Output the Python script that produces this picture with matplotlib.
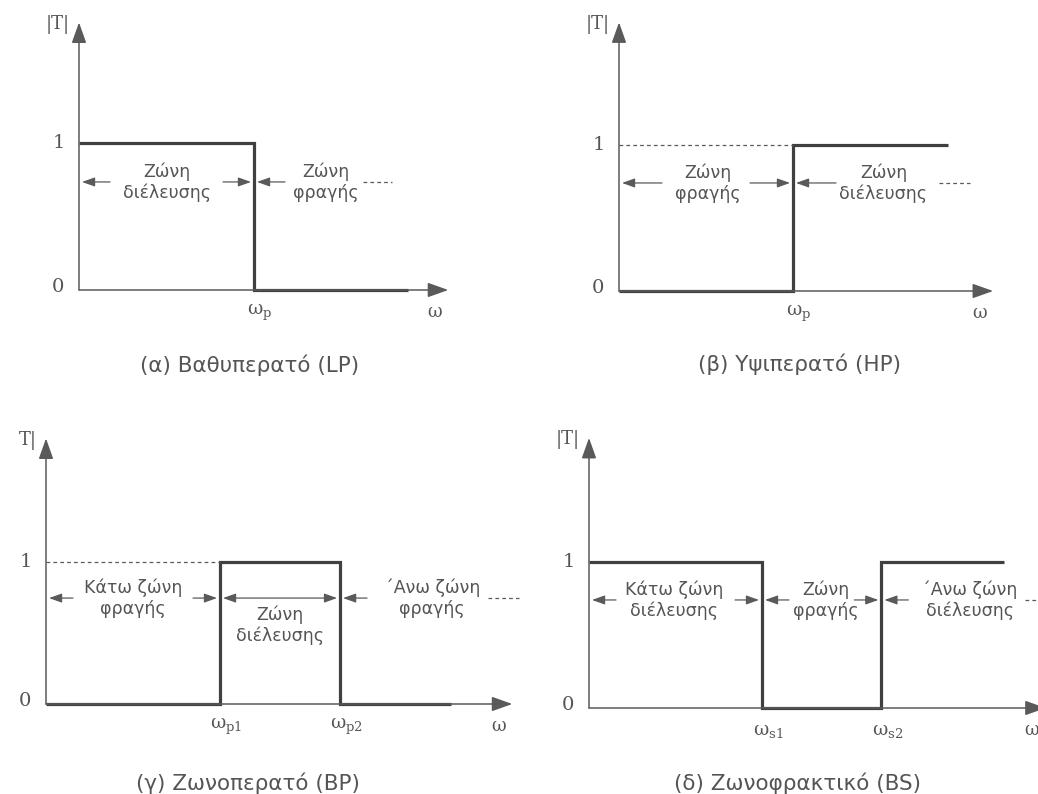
import matplotlib

matplotlib.use("Agg")
import matplotlib.pyplot as plt

W, H = 1038, 794

# Ideal magnitude responses: band edges (normalised frequency) and |T| per band
lp_edges = [0.0, 1.0, 1.88]
lp_gain = [1, 0]
hp_edges = [0.0, 1.0, 1.89]
hp_gain = [0, 1]
bp_edges = [0.0, 1.0, 1.69, 2.33]
bp_gain = [0, 1, 0]
bs_edges = [0.0, 1.0, 1.69, 2.40]
bs_gain = [1, 0, 1]

lp_cutoffs = [r"$\mathrm{ω_{p}}$"]
hp_cutoffs = [r"$\mathrm{ω_{p}}$"]
bp_cutoffs = [r"$\mathrm{ω_{p1}}$", r"$\mathrm{ω_{p2}}$"]
bs_cutoffs = [r"$\mathrm{ω_{s1}}$", r"$\mathrm{ω_{s2}}$"]

lp_bands = ["Ζώνη\nδιέλευσης", "Ζώνη\nφραγής"]
hp_bands = ["Ζώνη\nφραγής", "Ζώνη\nδιέλευσης"]
bp_bands = ["Κάτω ζώνη\nφραγής", "Ζώνη\nδιέλευσης", "΄Ανω ζώνη\nφραγής"]
bs_bands = ["Κάτω ζώνη\nδιέλευσης", "Ζώνη\nφραγής", "΄Ανω ζώνη\nδιέλευσης"]

titles = ["(α) Βαθυπερατό (LP)", "(β) Υψιπερατό (HP)",
          "(γ) Ζωνοπερατό (BP)", "(δ) Ζωνοφρακτικό (BS)"]
ylabels = ["|T|", "|T|", "T|", "|T|"]

LINE = "#404040"
AXIS = "#5a5a5a"
TEXT = "#555555"

plt.rcParams["font.family"] = ["DejaVu Sans"]
plt.rcParams["mathtext.fontset"] = "custom"
plt.rcParams["mathtext.rm"] = "DejaVu Serif"

fig = plt.figure(figsize=(W / 100, H / 100), dpi=100)
fig.patch.set_facecolor("white")


def arrow(ax, x_from, x_to, y, style="-|>"):
    ax.annotate("", xy=(x_to, y), xytext=(x_from, y), annotation_clip=False,
                arrowprops=dict(arrowstyle=f"{style},head_length=0.7,head_width=0.25",
                                color=AXIS, lw=0.9, shrinkA=0, shrinkB=0,
                                mutation_scale=11))


def panel(edges, gain, cutoffs, bands, title, ylab, lay):
    x0, y0, sx, sy = lay["origin"]
    xmax, ymax = lay["lims"]
    ax = fig.add_axes([x0 / W, 1 - y0 / H, xmax * sx / W, ymax * sy / H])
    ax.set_xlim(0, xmax)
    ax.set_ylim(0, ymax)
    ax.axis("off")
    px = 1.0 / sx

    # coordinate axes with arrow heads
    for tip in [(xmax, 0), (0, ymax)]:
        ax.annotate("", xy=tip, xytext=(0, 0), annotation_clip=False,
                    arrowprops=dict(arrowstyle="-|>,head_length=0.9,head_width=0.32",
                                    color=AXIS, lw=1.1, shrinkA=0, shrinkB=0,
                                    mutation_scale=14))

    # the response itself
    ax.stairs(gain, edges, baseline=None, color=LINE, lw=2.3, clip_on=False)
    if gain[0] == 0:
        ax.plot([0, edges[1]], [1, 1], ls=(0, (3, 2.5)), color=AXIS, lw=0.9)

    ax.annotate("1", xy=(0, 1), xytext=(-20, 0), textcoords="offset pixels",
                ha="center", va="center", fontsize=14, color=TEXT,
                family="DejaVu Serif")
    ax.annotate("0", xy=(0, 0), xytext=(-21, 3), textcoords="offset pixels",
                ha="center", va="center", fontsize=14, color=TEXT,
                family="DejaVu Serif")
    ax.annotate(ylab, xy=(0, ymax), xytext=(-9, -2), textcoords="offset pixels",
                ha="right", va="center", fontsize=13, color=TEXT,
                family="DejaVu Serif")
    ax.annotate("ω", xy=(xmax, 0), xytext=(-14, -22), textcoords="offset pixels",
                ha="center", va="center", fontsize=13, color=TEXT,
                family="DejaVu Serif")
    for xc, lab in zip(edges[1:-1], cutoffs):
        ax.annotate(lab, xy=(xc, 0), xytext=(6, -23), textcoords="offset pixels",
                    ha="center", va="center", fontsize=13.5, color=TEXT)

    # band annotations on the arrow row
    row = lay["row"]
    gap = 3 * px
    ln = lay["arrow"] * px
    bounds = edges[:-1] + [None]
    for i, lab in enumerate(bands):
        a, b = bounds[i], bounds[i + 1]
        xc = lay["centers"][i]
        if i == lay.get("full"):
            arrow(ax, a + gap, b - gap, row, style="<|-|>")
            ax.text(xc, row - 0.05, lab, ha="center", va="top", fontsize=12.5,
                    color=TEXT, linespacing=1.2)
            continue
        arrow(ax, a + gap + ln, a + gap, row)
        if b is not None:
            arrow(ax, b - gap - ln, b - gap, row)
        ax.text(xc, row, lab, ha="center", va="center", fontsize=12.5,
                color=TEXT, linespacing=1.2)
    d0, d1 = lay["dash"]
    ax.plot([d0, d1], [row, row], ls=(0, (3, 2.5)), color=AXIS, lw=0.9,
            clip_on=False)

    cx, cy = lay["caption"]
    fig.text(cx / W, 1 - cy / H, title, ha="center", va="center",
             fontsize=15.5, color=TEXT)


layouts = [
    dict(origin=(79, 290, 175, 147), lims=(2.11, 1.82), row=0.735,
         centers=[0.5, 1.41], arrow=28, dash=(1.62, 1.79), caption=(250, 365)),
    dict(origin=(619, 291, 174, 146), lims=(2.15, 1.84), row=0.74,
         centers=[0.51, 1.52], arrow=40, dash=(1.84, 2.02), caption=(800, 364)),
    dict(origin=(46, 704, 174, 142), lims=(2.68, 1.87), row=0.746,
         centers=[0.5, 1.345, 2.22], arrow=24, dash=(2.54, 2.72), full=1,
         caption=(248, 783)),
    dict(origin=(589, 708, 173, 146), lims=(2.64, 1.85), row=0.74,
         centers=[0.49, 1.37, 2.2], arrow=24, dash=(2.52, 2.7),
         caption=(798, 783)),
]

panel(lp_edges, lp_gain, lp_cutoffs, lp_bands, titles[0], ylabels[0], layouts[0])
panel(hp_edges, hp_gain, hp_cutoffs, hp_bands, titles[1], ylabels[1], layouts[1])
panel(bp_edges, bp_gain, bp_cutoffs, bp_bands, titles[2], ylabels[2], layouts[2])
panel(bs_edges, bs_gain, bs_cutoffs, bs_bands, titles[3], ylabels[3], layouts[3])

fig.savefig("out.png", dpi=100, facecolor="white")
